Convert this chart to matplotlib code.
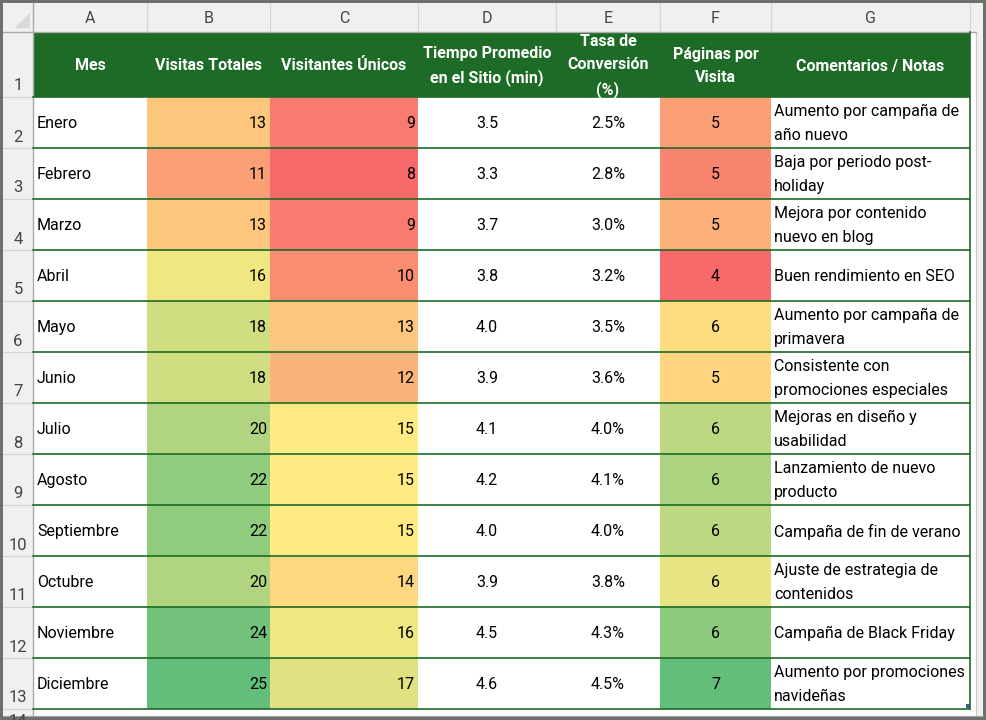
import numpy as np
import matplotlib.pyplot as plt
from matplotlib.patches import Rectangle, Polygon
from matplotlib.colors import LinearSegmentedColormap, TwoSlopeNorm

plt.rcParams['font.family'] = ['Roboto', 'DejaVu Sans']

letras = ['A', 'B', 'C', 'D', 'E', 'F', 'G']
encabezados = ['Mes', 'Visitas Totales', 'Visitantes Únicos', 'Tiempo Promedio\nen el Sitio (min)',
               'Tasa de\nConversión\n(%)', 'Páginas por\nVisita', 'Comentarios / Notas']
meses = ['Enero', 'Febrero', 'Marzo', 'Abril', 'Mayo', 'Junio', 'Julio', 'Agosto',
         'Septiembre', 'Octubre', 'Noviembre', 'Diciembre']
visitas = [13, 11, 13, 16, 18, 18, 20, 22, 22, 20, 24, 25]
unicos = [9, 8, 9, 10, 13, 12, 15, 15, 15, 14, 16, 17]
tiempo = [3.5, 3.3, 3.7, 3.8, 4.0, 3.9, 4.1, 4.2, 4.0, 3.9, 4.5, 4.6]
conversion = [2.5, 2.8, 3.0, 3.2, 3.5, 3.6, 4.0, 4.1, 4.0, 3.8, 4.3, 4.5]
paginas = [4.8, 4.5, 5.0, 4.2, 5.5, 5.4, 6.1, 6.2, 6.1, 5.8, 6.4, 6.7]
comentarios = ['Aumento por campaña de\naño nuevo', 'Baja por periodo post-\nholiday',
               'Mejora por contenido\nnuevo en blog', 'Buen rendimiento en SEO',
               'Aumento por campaña de\nprimavera', 'Consistente con\npromociones especiales',
               'Mejoras en diseño y\nusabilidad', 'Lanzamiento de nuevo\nproducto',
               'Campaña de fin de verano', 'Ajuste de estrategia de\ncontenidos',
               'Campaña de Black Friday', 'Aumento por promociones\nnavideñas']

# layout in pixels
col_x = [33, 147, 270, 418, 556, 660, 771, 970]
top, hdr_bot, row1_bot, row_h = 3, 32, 97, 51
verde = '#1d6b26'
gris_claro = '#f0f0f0'

cmap = LinearSegmentedColormap.from_list('excel3', ['#F8696B', '#FFEB84', '#63BE7B'])
bc = np.array(visitas + unicos)
norm_bc = TwoSlopeNorm(vcenter=np.median(bc), vmin=bc.min(), vmax=bc.max())
norm_f = TwoSlopeNorm(vcenter=np.median(paginas), vmin=min(paginas), vmax=max(paginas))

fig = plt.figure(figsize=(9.86, 7.2), dpi=100)
fig.patch.set_facecolor('#6b706b')
ax = fig.add_axes([0, 0, 1, 1])
ax.set_xlim(0, 986)
ax.set_ylim(720, 0)
ax.axis('off')

ax.add_patch(Rectangle((3, 3), 980, 713, fc='white', ec='none'))
ax.add_patch(Rectangle((3, 3), 980, hdr_bot - 3, fc=gris_claro, ec='none'))
ax.add_patch(Rectangle((3, 3), 30, 713, fc=gris_claro, ec='none'))
ax.add_patch(Rectangle((976, 3), 7, 713, fc=gris_claro, ec='none'))
ax.plot([976, 976], [hdr_bot, 716], color='#c8c8c8', lw=0.8)
ax.plot([3, 983], [716, 716], color='#a0a0a0', lw=0.8)
ax.add_patch(Polygon([(15, 28), (30, 28), (30, 13)], fc='#d8d8d8', ec='none'))

# column letters
for i, l in enumerate(letras):
    ax.text((col_x[i] + col_x[i + 1]) / 2, 18.5, l, ha='center', va='center', fontsize=11.5, color='#444444')
for x in col_x:
    ax.plot([x, x], [3, hdr_bot], color='#d4d4d4', lw=0.8)
ax.plot([3, 976], [hdr_bot, hdr_bot], color='#ababab', lw=1)
ax.plot([33, 33], [3, 716], color='#ababab', lw=1)

# header row
ax.add_patch(Rectangle((col_x[0], hdr_bot), col_x[-1] - col_x[0], row1_bot - hdr_bot, fc=verde, ec='none'))
for i, h in enumerate(encabezados):
    ax.text((col_x[i] + col_x[i + 1]) / 2, (hdr_bot + row1_bot) / 2 + 1.5, h, ha='center', va='center',
            fontsize=11.5, fontweight='bold', color='white', linespacing=1.65)

# row numbers
bordes = [hdr_bot, row1_bot] + [row1_bot + row_h * (k + 1) for k in range(len(meses))]
for k in range(len(bordes) - 1):
    ax.text(18, bordes[k + 1] - 11, str(k + 1), ha='center', va='center', fontsize=12, color='#444444')
    ax.plot([3, 33], [bordes[k + 1], bordes[k + 1]], color='#d4d4d4', lw=0.8)
ax.text(18, 722, '14', ha='center', va='center', fontsize=12, color='#444444', clip_on=True)

for k, mes in enumerate(meses):
    y0 = row1_bot + row_h * k
    yc = y0 + row_h / 2 + 1
    ax.add_patch(Rectangle((col_x[1], y0), col_x[2] - col_x[1], row_h, fc=cmap(norm_bc(visitas[k])), ec='none'))
    ax.add_patch(Rectangle((col_x[2], y0), col_x[3] - col_x[2], row_h, fc=cmap(norm_bc(unicos[k])), ec='none'))
    ax.add_patch(Rectangle((col_x[5], y0), col_x[6] - col_x[5], row_h, fc=cmap(norm_f(paginas[k])), ec='none'))
    ax.text(col_x[0] + 4, yc, mes, ha='left', va='center', fontsize=11.5, color='black')
    ax.text(col_x[2] - 3, yc, str(visitas[k]), ha='right', va='center', fontsize=11.5, color='black')
    ax.text(col_x[3] - 3, yc, str(unicos[k]), ha='right', va='center', fontsize=11.5, color='black')
    ax.text((col_x[3] + col_x[4]) / 2, yc, '%.1f' % tiempo[k], ha='center', va='center', fontsize=11.5)
    ax.text((col_x[4] + col_x[5]) / 2, yc, '%.1f%%' % conversion[k], ha='center', va='center', fontsize=11.5)
    ax.text((col_x[5] + col_x[6]) / 2, yc, str(int(np.floor(paginas[k] + 0.5))), ha='center', va='center',
            fontsize=11.5)
    ax.text(col_x[6] + 3, yc, comentarios[k], ha='left', va='center', fontsize=11.5, linespacing=1.7)

for y in bordes[1:]:
    ax.plot([col_x[0], col_x[-1]], [y, y], color=verde, lw=1.2)
ax.plot([col_x[-1], col_x[-1]], [hdr_bot, bordes[-1]], color=verde, lw=1.2)
ax.add_patch(Rectangle((966, 704), 4, 4, fc='#3a56a8', ec='none'))

fig.savefig('out.png', dpi=100, facecolor=fig.get_facecolor())
